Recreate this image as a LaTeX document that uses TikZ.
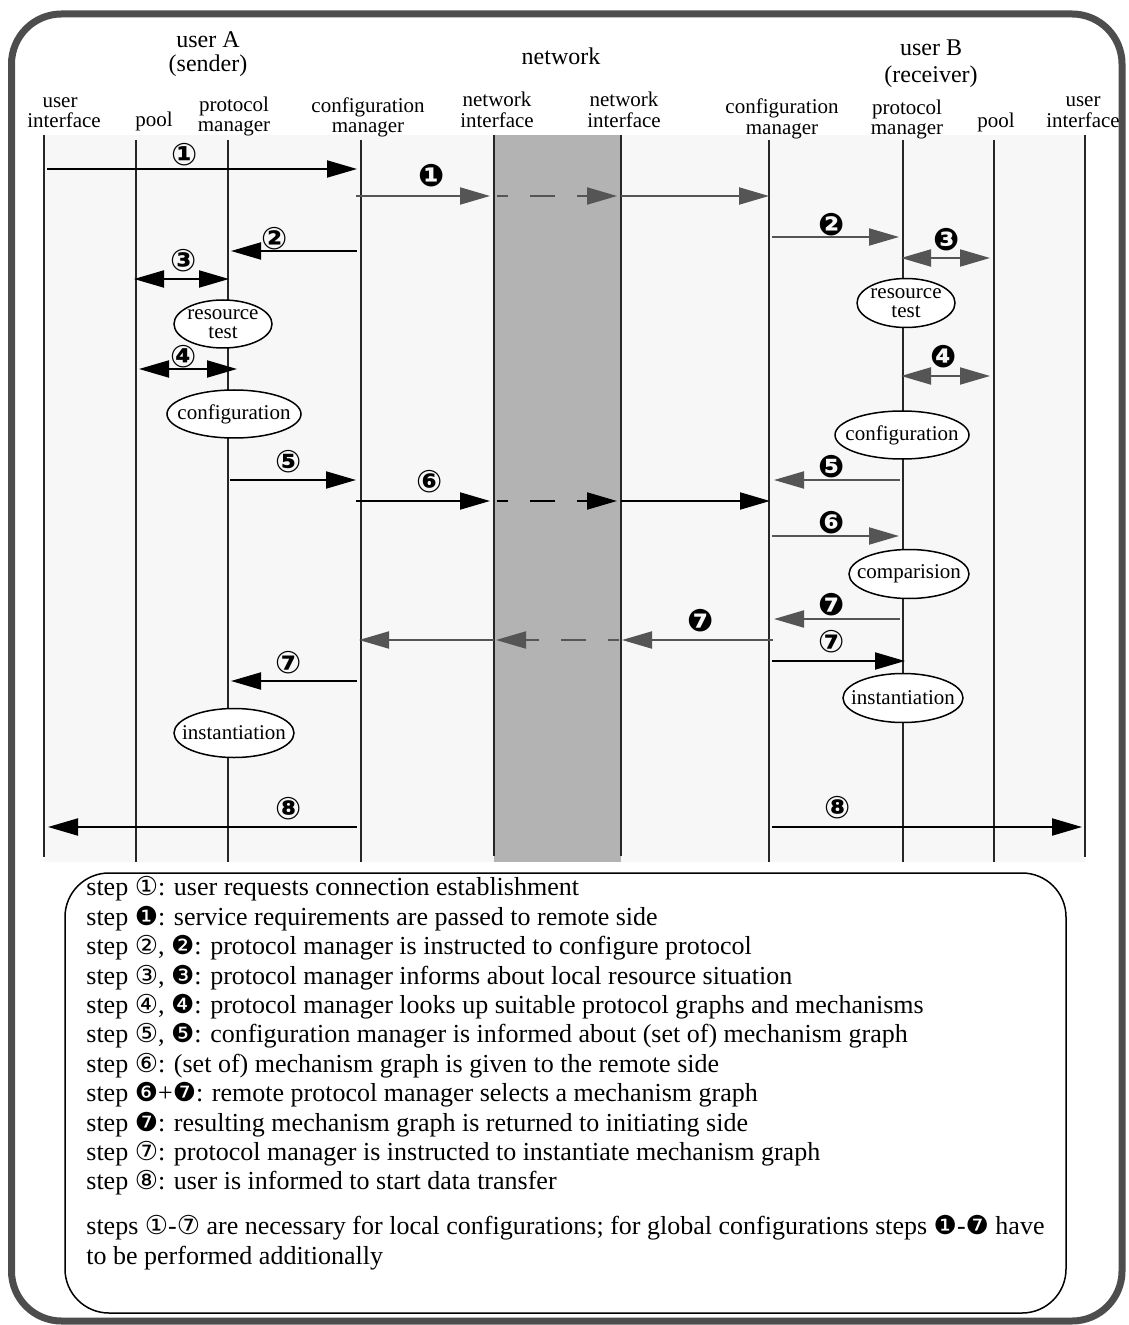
\documentclass[tikz,border=0pt]{standalone}
\usepackage{fontspec}
\setmainfont{Liberation Serif}
\newfontfamily\dingfont{DejaVu Sans}
\usetikzlibrary{arrows.meta,shapes.geometric}

\newcommand{\cn}[1]{{\dingfont #1}}

\definecolor{framegray}{HTML}{4D4D4D}
\definecolor{remotegray}{HTML}{555555}
\definecolor{bandgray}{HTML}{B3B3B3}
\definecolor{lanegray}{HTML}{F7F7F7}

\tikzset{
  lifeline/.style={draw=black!85, line width=0.9pt},
  headtext/.style={font=\fontsize{12}{12}\selectfont, inner sep=0pt, anchor=base},
  colname/.style={font=\fontsize{10.5}{10.5}\selectfont, inner sep=0pt, anchor=base},
  msg/.style={line width=1pt, -{Triangle[length=15pt,width=8.5pt]}},
  msgboth/.style={line width=1pt, {Triangle[length=15pt,width=8.5pt]}-{Triangle[length=15pt,width=8.5pt]}},
  remote/.style={color=remotegray},
  netdash/.style={dash pattern=on 12.5pt off 11pt, dash phase=7pt},
  stepno/.style={font={\dingfont\bfseries\fontsize{15.5}{15.5}\selectfont}, inner sep=0pt},
  activity/.style={ellipse, draw, fill=white, line width=0.75pt, inner sep=0pt},
  acttext/.style={font=\fontsize{10.5}{9.5}\selectfont, align=center, inner sep=0pt},
  legendtext/.style={align=left, inner sep=0pt, font=\fontsize{13}{14.7}\selectfont},
}

\begin{document}
\begin{tikzpicture}[x=0.5pt, y=-0.5pt]
\useasboundingbox (0,0) rectangle (1128,1325);

% lanes and frame
\fill[lanegray] (44,135) rectangle (1085,862);
\fill[bandgray] (494,135) rectangle (621,862);
\draw[framegray, line width=3.5pt, rounded corners=25pt] (11.5,14) rectangle (1122,1321);

% headings
\node[headtext] (userA) at (208,48) {user A};
\node[headtext] (sender) at (208,72) {(sender)};
\node[headtext] (net) at (561,65) {network};
\node[headtext] (userB) at (931,56) {user B};
\node[headtext] (receiver) at (931,83) {(receiver)};

\node[colname] (uiA_1) at (60,108) {user};
\node[colname] (uiA_2) at (64,128) {interface};
\node[colname] (poA_1) at (154,127) {pool};
\node[colname] (pmA_1) at (234,112) {protocol};
\node[colname] (pmA_2) at (234,132) {manager};
\node[colname] (cmA_1) at (368,113) {configuration};
\node[colname] (cmA_2) at (368,133) {manager};
\node[colname] (niA_1) at (497,107) {network};
\node[colname] (niA_2) at (497,128) {interface};
\node[colname] (niB_1) at (624,107) {network};
\node[colname] (niB_2) at (624,128) {interface};
\node[colname] (cmB_1) at (782,114) {configuration};
\node[colname] (cmB_2) at (782,135) {manager};
\node[colname] (pmB_1) at (907,115) {protocol};
\node[colname] (pmB_2) at (907,135) {manager};
\node[colname] (poB_1) at (996,128) {pool};
\node[colname] (uiB_1) at (1083,107) {user};
\node[colname] (uiB_2) at (1083,128) {interface};

% lifelines
\coordinate (uiA_t) at (44,135);
\coordinate (uiA_b) at (44,857);
\coordinate (poA_t) at (136,140);
\coordinate (poA_b) at (136,862);
\coordinate (pmA_t) at (228,140);
\coordinate (pmA_b) at (228,862);
\coordinate (cmA_t) at (361,140);
\coordinate (cmA_b) at (361,862);
\coordinate (niA_t) at (494,135);
\coordinate (niA_b) at (494,856);
\coordinate (niB_t) at (621,135);
\coordinate (niB_b) at (621,856);
\coordinate (cmB_t) at (769,140);
\coordinate (cmB_b) at (769,862);
\coordinate (pmB_t) at (903,140);
\coordinate (pmB_b) at (903,862);
\coordinate (poB_t) at (994,140);
\coordinate (poB_b) at (994,862);
\coordinate (uiB_t) at (1085,135);
\coordinate (uiB_b) at (1085,857);
\draw[lifeline] (uiA_t) -- (uiA_b);
\draw[lifeline] (poA_t) -- (poA_b);
\draw[lifeline] (pmA_t) -- (pmA_b);
\draw[lifeline] (cmA_t) -- (cmA_b);
\draw[lifeline] (niA_t) -- (niA_b);
\draw[lifeline] (niB_t) -- (niB_b);
\draw[lifeline] (cmB_t) -- (cmB_b);
\draw[lifeline] (pmB_t) -- (pmB_b);
\draw[lifeline] (poB_t) -- (poB_b);
\draw[lifeline] (uiB_t) -- (uiB_b);

% step 1
\coordinate (M_1_a) at (47,169);
\coordinate (M_1_b) at (357,169);
\draw[msg] (M_1_a) -- (M_1_b);
\node[stepno] (S_1) at (185,155) {①};
% remote step 1
\coordinate (R_1_a) at (356,196);
\coordinate (R_1_b) at (490,196);
\coordinate (R_1_c) at (497,196);
\coordinate (R_1_d) at (617,196);
\coordinate (R_1_e) at (621,196);
\coordinate (R_1_f) at (769,196);
\draw[msg, remote] (R_1_a) -- (R_1_b);
\draw[msg, remote, netdash] (R_1_c) -- (R_1_d);
\draw[msg, remote] (R_1_e) -- (R_1_f);
\node[stepno] (T_1) at (432,176) {❶};
% step 2
\coordinate (M_2_a) at (357,251);
\coordinate (M_2_b) at (231,251);
\draw[msg] (M_2_a) -- (M_2_b);
\node[stepno] (S_2) at (275,239) {②};
\coordinate (R_2_a) at (772,237);
\coordinate (R_2_b) at (899,237);
\draw[msg, remote] (R_2_a) -- (R_2_b);
\node[stepno] (T_2) at (832,225) {❷};
% step 3
\coordinate (M_3_a) at (134,279);
\coordinate (M_3_b) at (229,279);
\draw[msgboth] (M_3_a) -- (M_3_b);
\node[stepno] (S_3) at (184,261) {③};
\coordinate (R_3_a) at (901,258);
\coordinate (R_3_b) at (990,258);
\draw[msgboth, remote] (R_3_a) -- (R_3_b);
\node[stepno] (T_3) at (947,240) {❸};
% step 4
\coordinate (M_4_a) at (139,369);
\coordinate (M_4_b) at (237,369);
\draw[msgboth] (M_4_a) -- (M_4_b);
\node[stepno] (S_4) at (184,357) {④};
\coordinate (R_4_a) at (901,376);
\coordinate (R_4_b) at (990,376);
\draw[msgboth, remote] (R_4_a) -- (R_4_b);
\node[stepno] (T_4) at (944,357) {❹};
% step 5
\coordinate (M_5_a) at (230,480);
\coordinate (M_5_b) at (356,480);
\draw[msg] (M_5_a) -- (M_5_b);
\node[stepno] (S_5) at (289,462) {⑤};
\coordinate (R_5_a) at (900,480);
\coordinate (R_5_b) at (774,480);
\draw[msg, remote] (R_5_a) -- (R_5_b);
\node[stepno] (T_5) at (832,467) {❺};
% step 6
\coordinate (M_6_a) at (356,501);
\coordinate (M_6_b) at (490,501);
\coordinate (M_6_c) at (497,501);
\coordinate (M_6_d) at (617,501);
\coordinate (M_6_e) at (621,501);
\coordinate (M_6_f) at (770,501);
\draw[msg] (M_6_a) -- (M_6_b);
\draw[msg, netdash] (M_6_c) -- (M_6_d);
\draw[msg] (M_6_e) -- (M_6_f);
\node[stepno] (S_6) at (430,482) {⑥};
\coordinate (R_6_a) at (772,536);
\coordinate (R_6_b) at (899,536);
\draw[msg, remote] (R_6_a) -- (R_6_b);
\node[stepno] (T_6) at (832,523) {❻};
% remote step 7
\coordinate (R_7_a) at (900,619);
\coordinate (R_7_b) at (774,619);
\draw[msg, remote] (R_7_a) -- (R_7_b);
\node[stepno] (T_7) at (832,605) {❼};
\coordinate (R_8_a) at (773,640);
\coordinate (R_8_b) at (622,640);
\coordinate (R_8_c) at (619,640);
\coordinate (R_8_d) at (496,640);
\coordinate (R_8_e) at (494,640);
\coordinate (R_8_f) at (359,640);
\draw[msg, remote] (R_8_a) -- (R_8_b);
\draw[msg, remote, netdash] (R_8_c) -- (R_8_d);
\draw[msg, remote] (R_8_e) -- (R_8_f);
\node[stepno] (T_8) at (701,621) {❼};
% step 7
\coordinate (M_7_a) at (772,661);
\coordinate (M_7_b) at (905,661);
\draw[msg] (M_7_a) -- (M_7_b);
\node[stepno] (S_7) at (832,642) {⑦};
\coordinate (M_8_a) at (357,681);
\coordinate (M_8_b) at (231,681);
\draw[msg] (M_8_a) -- (M_8_b);
\node[stepno] (S_8) at (289,663) {⑦};
% step 8
\coordinate (M_9_a) at (357,827);
\coordinate (M_9_b) at (48,827);
\draw[msg] (M_9_a) -- (M_9_b);
\node[stepno] (S_9) at (289,809) {⑧};
\coordinate (M_10_a) at (772,827);
\coordinate (M_10_b) at (1082,827);
\draw[msg] (M_10_a) -- (M_10_b);
\node[stepno] (S_10) at (838,808) {⑧};

% activities
\node[activity, minimum width=49pt, minimum height=24pt,
  label={[acttext]center:{resource\\test}}] (testA) at (223,324) {};
\node[activity, minimum width=49pt, minimum height=24.5pt,
  label={[acttext]center:{resource\\test}}] (testB) at (906,303) {};
\node[activity, minimum width=67pt, minimum height=24pt,
  label={[acttext]center:configuration}] (confA) at (234,414) {};
\node[activity, minimum width=67pt, minimum height=24pt,
  label={[acttext]center:configuration}] (confB) at (902,435) {};
\node[activity, minimum width=60pt, minimum height=24.5pt,
  label={[acttext]center:comparision}] (compB) at (909,574) {};
\node[activity, minimum width=60pt, minimum height=24.5pt,
  label={[acttext]center:instantiation}] (instA) at (234,733) {};
\node[activity, minimum width=60pt, minimum height=24.5pt,
  label={[acttext]center:instantiation}] (instB) at (903,698) {};

% legend
\draw[line width=0.75pt, rounded corners=22pt] (65,873) rectangle (1066,1313);
\node[legendtext, anchor=north west] (legend) at (86,875) {\strut step \cn{①}: user requests connection establishment\\
step \cn{❶}: service requirements are passed to remote side\\
step \cn{②}, \cn{❷}: protocol manager is instructed to configure protocol\\
step \cn{③}, \cn{❸}: protocol manager informs about local resource situation\\
step \cn{④}, \cn{❹}: protocol manager looks up suitable protocol graphs and mechanisms\\
step \cn{⑤}, \cn{❺}: configuration manager is informed about (set of) mechanism graph\\
step \cn{⑥}: (set of) mechanism graph is given to the remote side\\
step \cn{❻}+\cn{❼}: remote protocol manager selects a mechanism graph\\
step \cn{❼}: resulting mechanism graph is returned to initiating side\\
step \cn{⑦}: protocol manager is instructed to instantiate mechanism graph\\
step \cn{⑧}: user is informed to start data transfer\\[7.75pt]
steps \cn{①}-\cn{⑦} are necessary for local configurations; for global configurations steps \cn{❶}-\cn{❼} have\\
to be performed additionally};
\end{tikzpicture}
\end{document}
